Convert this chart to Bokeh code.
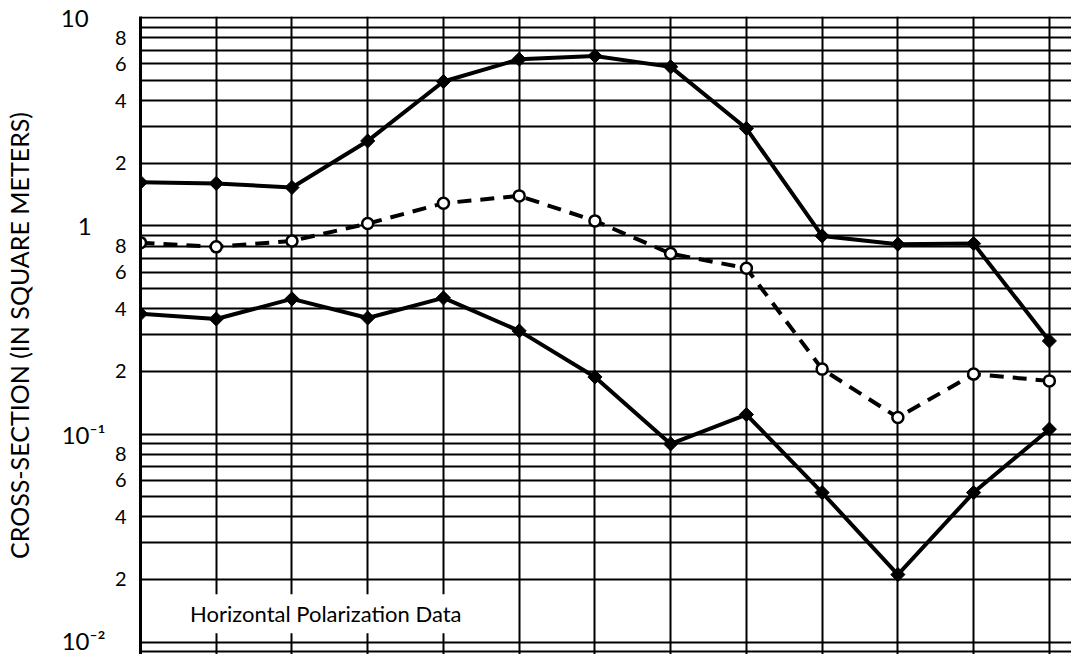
import numpy as np
from bokeh.plotting import figure
from bokeh.models import Range1d, FixedTicker, Label, LogAxis
from bokeh.embed import file_html
from bokeh.resources import INLINE

# ---------------- data ----------------
positions = list(range(13))
upper_values = [1.62, 1.60, 1.53, 2.56, 4.94, 6.32, 6.56, 5.81, 2.94, 0.895, 0.817, 0.822, 0.280]
dashed_values = [0.831, 0.793, 0.847, 1.026, 1.285, 1.394, 1.057, 0.736, 0.626, 0.205, 0.120, 0.194, 0.180]
lower_values = [0.378, 0.357, 0.446, 0.361, 0.451, 0.313, 0.188, 0.0896, 0.124, 0.0523, 0.0211, 0.0523, 0.1055]

minor_tick_values = [0.02, 0.04, 0.06, 0.08, 0.2, 0.4, 0.6, 0.8, 2, 4, 6, 8]
minor_tick_labels = ["2", "4", "6", "8", "2", "4", "6", "8", "2", "4", "6", "8"]
decade_values = [10, 1, 0.1, 0.01]
decade_labels = ["10\u2007\u2009", "1\u2007", "10\u207b\u00b9", "10\u207b\u00b2"]
grid_multipliers = [1, 2, 3, 4, 5, 6, 7, 8, 9]
grid_decades = [0.001, 0.01, 0.1, 1]
y_axis_title = "CROSS-SECTION (IN SQUARE METERS)"
annotation_text = "Horizontal Polarization Data"

# ---------------- layout ----------------
FONT = "Lato"
W, H = 1071, 654
LEFT = 138
TOP = 16
PX_PER_DECADE = 208.1
PX_PER_STEP = 75.9

y_end = 10 ** (1 + 1.3 / PX_PER_DECADE)
y_start = 10 ** (np.log10(y_end) - (H - TOP) / PX_PER_DECADE)
x_end = (W - LEFT) / PX_PER_STEP

p = figure(width=W, height=H, y_axis_type="log",
           x_range=Range1d(0, x_end), y_range=Range1d(y_start, y_end),
           x_axis_location=None,
           output_backend="svg", toolbar_location=None,
           min_border_left=LEFT, min_border_right=0,
           min_border_top=TOP, min_border_bottom=0)
p.background_fill_color = "white"
p.border_fill_color = "white"
p.outline_line_color = None

grid_values = [m * d for d in grid_decades for m in grid_multipliers] + [10]
p.ygrid.ticker = FixedTicker(ticks=grid_values)
p.xgrid.ticker = FixedTicker(ticks=positions)
for g in (p.xgrid, p.ygrid):
    g.grid_line_color = "black"
    g.grid_line_width = 2
    g.grid_line_alpha = 1

# inner axis: 2-4-6-8 labels
ax = p.yaxis[0]
ax.ticker = FixedTicker(ticks=minor_tick_values)
ax.major_label_overrides = dict(zip(minor_tick_values, minor_tick_labels))
ax.major_tick_line_color = None
ax.minor_tick_line_color = None
ax.major_tick_out = 0
ax.minor_tick_out = 0
ax.axis_line_color = "black"
ax.axis_line_width = 3
ax.major_label_standoff = 14
ax.major_label_text_font = FONT
ax.major_label_text_font_size = "20px"
ax.major_label_text_color = "black"

# outer axis: decade labels and the title
outer = LogAxis(ticker=FixedTicker(ticks=decade_values),
                major_label_overrides=dict(zip(decade_values, decade_labels)))
outer.major_tick_line_color = None
outer.minor_tick_line_color = None
outer.major_tick_out = 0
outer.minor_tick_out = 0
outer.axis_line_color = None
outer.major_label_standoff = 6
outer.major_label_text_font = FONT
outer.major_label_text_font_size = "24px"
outer.major_label_text_color = "black"
outer.axis_label = y_axis_title
outer.axis_label_text_font = FONT
outer.axis_label_text_font_size = "25px"
outer.axis_label_text_font_style = "normal"
outer.axis_label_text_color = "black"
outer.axis_label_standoff = 24
p.add_layout(outer, "left")

# series
p.line(positions, upper_values, line_width=4, line_color="black")
p.scatter(positions, upper_values, marker="square", angle=np.pi / 4, size=10,
          fill_color="black", line_color="black")

p.line(positions, dashed_values, line_width=4, line_color="black", line_dash="14 9")
p.scatter(positions, dashed_values, marker="circle", size=11,
          fill_color="white", line_color="black", line_width=2.5)

p.line(positions, lower_values, line_width=4, line_color="black")
p.scatter(positions, lower_values, marker="square", angle=np.pi / 4, size=10,
          fill_color="black", line_color="black")

p.add_layout(Label(x=0.576, y=0.0137, text=annotation_text, text_align="left",
                   text_baseline="middle", text_font=FONT, text_font_size="22px",
                   text_color="black", background_fill_color="white",
                   padding=6))

open("out.html", "w").write(file_html(p, INLINE))
